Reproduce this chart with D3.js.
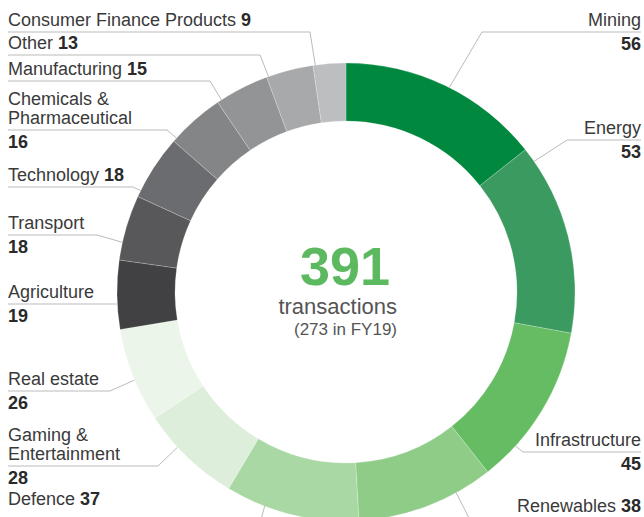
<!DOCTYPE html>
<html>
<head>
<meta charset="utf-8">
<script src="https://cdn.jsdelivr.net/npm/d3@7"></script>
<style>
  body { margin: 0; background: #fff; }
  svg text { font-family: "Liberation Sans", Arial, Helvetica, sans-serif; }
</style>
</head>
<body>
<script>
// Transactions by sector, FY20
var sectors = ["Mining", "Energy", "Infrastructure", "Renewables", "Defence",
               "Gaming &\nEntertainment", "Real estate", "Agriculture", "Transport",
               "Technology", "Chemicals &\nPharmaceutical", "Manufacturing", "Other",
               "Consumer Finance Products"];
var deals = [56, 53, 45, 38, 37, 28, 26, 19, 18, 18, 16, 15, 13, 9];
var totalLabel = "transactions";
var priorLabel = "(273 in FY19)";

var sectorColors = ["#00883e", "#3a9a5f", "#66bc62", "#8fcc88", "#aad8a4",
                    "#ddeedb", "#ebf5e9", "#414143", "#58585a", "#6b6c6f",
                    "#848587", "#939496", "#a8a9ab", "#bdbec0"];

// where each label sits and where its leader touches the ring (fraction of the slice)
var labelLayout = [
  {side: "right", lineY: 32,  elbowX: 482, touch: 0.52,  below: true},
  {side: "right", lineY: 140, elbowX: 567, touch: 0.075, below: true},
  {side: "right", lineY: 452, elbowX: 523, touch: 0.77,  below: true},
  {side: "right", lineY: 528, elbowX: 474, touch: 0.27,  below: false, textY: 512},
  {side: "left",  lineY: 530, elbowX: 258, touch: 0.705, below: false, textY: 505},
  {side: "left",  lineY: 466, elbowX: 158, touch: 0.64,  below: true},
  {side: "left",  lineY: 391, elbowX: 110, touch: 0.45,  below: true},
  {side: "left",  lineY: 304, elbowX: 117, touch: 0.37,  below: true},
  {side: "left",  lineY: 235, elbowX: 97,  touch: 0.27,  below: true},
  {side: "left",  lineY: 187, elbowX: 133, touch: 0.10,  below: false},
  {side: "left",  lineY: 130, elbowX: 167, touch: 0.07,  below: true},
  {side: "left",  lineY: 81,  elbowX: 210, touch: 0.08,  below: false},
  {side: "left",  lineY: 55,  elbowX: 260, touch: 0.04,  below: false},
  {side: "left",  lineY: 32,  elbowX: 310, touch: 0.07,  below: false}
];

var donut = {
    width: 644,
    height: 517,
    cx: 346,
    cy: 292,
    outerR: 229,
    innerR: 171,

    draw: function(){
        var svg = d3.select("body").append("svg")
            .attr("width", this.width)
            .attr("height", this.height);

        var total = d3.sum(deals);
        var pie = d3.pie().sort(null).value(function(d){ return d; });
        var slices = pie(deals);

        var arc = d3.arc()
            .innerRadius(this.innerR)
            .outerRadius(this.outerR);

        var g = svg.append("g")
            .attr("transform", "translate(" + this.cx + "," + this.cy + ")");

        g.selectAll("path")
            .data(slices)
            .enter()
            .append("path")
            .attr("d", arc)
            .attr("fill", function(d, i){ return sectorColors[i]; })
            .attr("stroke", "#fff")
            .attr("stroke-opacity", 0.35)
            .attr("stroke-width", 0.6);

        this.drawLeaders(svg, slices);
        this.drawLabels(svg);

        // centre text
        svg.append("text")
           .attr("x", this.cx - 1)
           .attr("y", 285)
           .attr("text-anchor", "middle")
           .attr("font-size", 54)
           .attr("font-weight", "bold")
           .attr("fill", "#5db95f")
           .text(total);

        svg.append("text")
           .attr("x", 397)
           .attr("y", 314)
           .attr("text-anchor", "end")
           .attr("font-size", 22)
           .attr("fill", "#555")
           .text(totalLabel);

        svg.append("text")
           .attr("x", 397)
           .attr("y", 335)
           .attr("text-anchor", "end")
           .attr("font-size", 17)
           .attr("fill", "#555")
           .text(priorLabel);
    },

    drawLeaders: function(svg, slices){
        var self = this;
        var line = d3.line();
        svg.selectAll(".leader")
           .data(slices)
           .enter()
           .append("path")
           .attr("class", "leader")
           .attr("fill", "none")
           .attr("stroke", "#bbb")
           .attr("stroke-width", 1)
           .attr("d", function(d, i){
              var lay = labelLayout[i];
              var a = d.startAngle + lay.touch * (d.endAngle - d.startAngle);
              var tx = self.cx + self.outerR * Math.sin(a);
              var ty = self.cy - self.outerR * Math.cos(a);
              var endX = lay.side == "left" ? 8 : 641;
              return line([[tx, ty], [lay.elbowX, lay.lineY], [endX, lay.lineY]]);
           });
    },

    drawLabels: function(svg){
        for(var i = 0; i < sectors.length; i++){
            var lay = labelLayout[i];
            var x = lay.side == "left" ? 8 : 641;
            var anchor = lay.side == "left" ? "start" : "end";
            var names = sectors[i].split("\n");
            var lastY = lay.textY ? lay.textY : lay.lineY - 6;

            for(var j = 0; j < names.length; j++){
                var t = svg.append("text")
                   .attr("x", x)
                   .attr("y", lastY - (names.length - 1 - j) * 19)
                   .attr("text-anchor", anchor)
                   .attr("font-size", 18)
                   .attr("fill", "#3a3a3a");
                t.append("tspan").text(names[j]);
                // number goes inline on the last line when it is not below
                if(j == names.length - 1 && !lay.below){
                    t.append("tspan")
                     .attr("font-weight", "bold")
                     .attr("fill", "#2a2a2a")
                     .text(" " + deals[i]);
                }
            }

            if(lay.below){
                svg.append("text")
                   .attr("x", x)
                   .attr("y", lay.lineY + 18)
                   .attr("text-anchor", anchor)
                   .attr("font-size", 18)
                   .attr("font-weight", "bold")
                   .attr("fill", "#2a2a2a")
                   .text(deals[i]);
            }
        }
    }
};

donut.draw();
</script>
</body>
</html>
